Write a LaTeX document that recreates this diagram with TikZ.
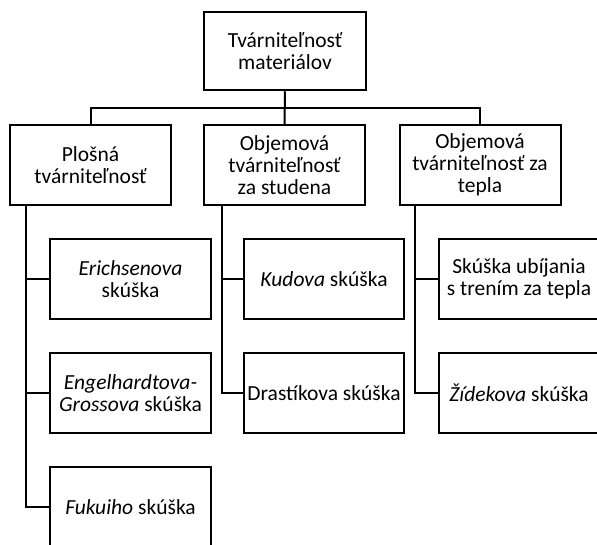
\documentclass[tikz,border=0pt]{standalone}
\usepackage{fontspec}
\setmainfont{Carlito}
\begin{document}
\begin{tikzpicture}[x=1pt,y=-1pt,
  box/.style={draw, line width=2pt, inner sep=0pt, minimum width=161pt, minimum height=80pt,
    align=center, font=\fontsize{21.5}{22}\selectfont},
  link/.style={line width=2pt}]
\clip (0,0) rectangle (597,544);
\node[box, minimum width=162pt, minimum height=78.5pt] (top) at (285,51) {Tvárniteľnosť\\materiálov};
\node[box] (L) at (90.5,165) {Plošná\\tvárniteľnosť};
\node[box] (M) at (284.5,165) {Objemová\\tvárniteľnosť\\za studena};
\node[box] (R) at (480,165) {Objemová\\tvárniteľnosť za\\tepla};
\node[box] (e1) at (130.5,279) {\textit{Erichsenova}\\skúška};
\node[box] (e2) at (130.5,393) {\textit{Engelhardtova-}\\\textit{Grossova} skúška};
\node[box] (e3) at (130.5,507) {\textit{Fukuiho} skúška};
\node[box, minimum width=160pt] (k1) at (324,279) {\textit{Kudova} skúška};
\node[box, minimum width=160pt] (k2) at (324,393) {Drastíkova skúška};
\node[box, minimum width=160pt] (t1) at (519,279) {Skúška ubíjania\\s trením za tepla};
\node[box, minimum width=160pt] (t2) at (519,393) {\textit{Žídekova} skúška};
\coordinate (bus) at (285,108);
\coordinate (lt) at (26,205);
\coordinate (mt) at (221.7,205);
\coordinate (rt) at (415.3,205);
\draw[link] (top.south) -- (M.north);
\draw[link] (L.north) |- (bus) -| (R.north);
\draw[link] (lt) |- (e3.west);
\draw[link] (lt |- e1.west) -- (e1.west);
\draw[link] (lt |- e2.west) -- (e2.west);
\draw[link] (mt) |- (k2.west);
\draw[link] (mt |- k1.west) -- (k1.west);
\draw[link] (rt) |- (t2.west);
\draw[link] (rt |- t1.west) -- (t1.west);
\end{tikzpicture}
\end{document}
